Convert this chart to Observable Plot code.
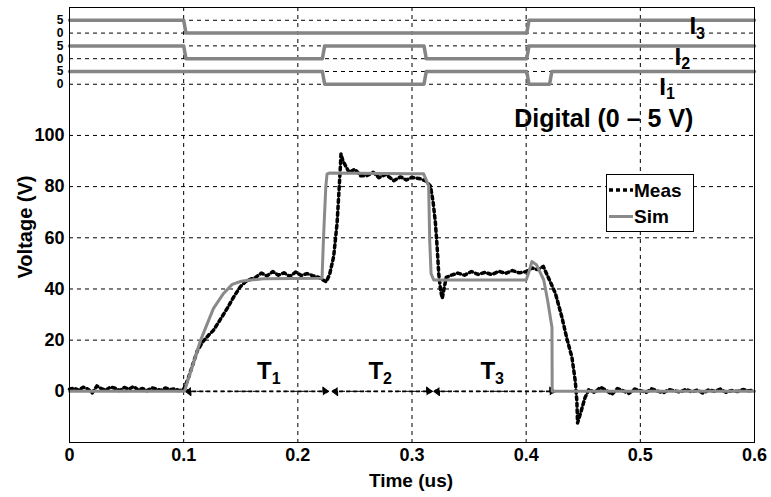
<!DOCTYPE html>
<html><head><meta charset="utf-8">
<script src="https://cdn.jsdelivr.net/npm/d3@7"></script>
<script src="https://cdn.jsdelivr.net/npm/@observablehq/plot@0.6"></script>
<style>
body{margin:0;background:#fff;}
#chart{position:relative;width:771px;height:497px;}
</style></head><body><div id="chart"></div>
<script>
// ---- Data ----
// Measured voltage (V) vs time (us)
const measT = [
  0,.004,.008,.012,.016,.02,.024,.028,.032,.036,.04,.044,.048,.052,.056,.06,.064,.068,.072,.076,.08,.084,.088,.092,.096,.1,
  .104,.108,.112,.117,.122,.126,.132,.138,.144,.1497,.154,.1585,
  .163,.168,.173,.178,.183,.188,.193,.198,.203,.208,.213,.218,.222,.225,
  .228,.2314,.2344,.2358,.2373,.2378,.2395,.2417,.245,.25,.255,.2606,.266,.271,.277,.284,.29,.295,.3,.3077,.312,.3161,
  .3185,.3205,.322,.3234,.325,.3265,.328,.33,.334,.34,.346,.352,.358,.364,.37,.376,.382,.388,.394,.4,.405,
  .41,.415,.4197,.4256,.4313,.4357,.4401,.443,.4444,.445,.448,.4515,.455,.46,
  .465,.47,.475,.48,.485,.49,.495,.5,.505,.51,.515,.52,.525,.53,.535,.54,.545,.55,.555,.56,.565,.57,.575,.58,.585,.59,.595,.6
];
const measV = [
  0.8,1.3,0.4,1.6,0.9,-0.6,2.1,1.0,0.5,1.7,1.2,0.3,1.5,0.8,1.9,0.6,1.1,0.2,1.4,0.9,0.4,1.3,0.7,1.0,0.3,0.8,
  5,10.5,15.9,19.5,22,23.8,28,32.3,37,40.9,42.8,43.8,
  44.5,46.2,45.1,46.8,45.4,46.3,44.9,46.6,45.3,46.0,45.2,44.6,43.5,42.8,
  46,52.7,65.9,76.4,88.2,92.8,90,88.2,85.5,86.8,84.2,84.3,85.6,83.5,84.8,82.3,83.8,82.6,83.6,83,82.2,80.3,
  74,65.9,56.6,46,39.6,36.3,40,44.5,45.3,46.2,45.4,46.8,45.7,46.5,45.6,46.9,46.1,47.2,46.3,46.8,48.2,
  47.6,48.8,44.2,38.3,29,20.5,13.3,4,-3.8,-12.4,-8,-2.5,0.8,-0.5,
  1.6,0.4,-1.2,1.1,0.2,-0.8,0.9,0.3,-0.4,1.0,0.1,-0.6,0.7,0.2,-0.3,0.8,-0.2,0.5,-0.7,0.6,0.0,0.9,-0.4,0.3,-0.1,0.7,0.2,0.4
];
// Simulated voltage
const simT = [0,.1,.101,.1147,.126,.1345,.1425,.1505,.1585,.17,.2212,.2225,.2245,.2256,.228,.30,.3102,.3146,.3155,.3167,.319,.322,.40,.402,.405,.409,.4154,.419,.4215,.4226,.4228,.6];
const simV = [0,0,0.4,19.8,32.3,38,41.8,43,43.5,44,44.2,60,80,85,85.3,85,85,80.3,59,46,43.5,43.5,43.5,46,50.7,49.5,43.5,35,28,25,0,0];
// Digital gate signals (0 / 5 V)
const i1T = [0,.2215,.2235,.3105,.3125,.4005,.4025,.4205,.4225,.6];
const i1S = [5,5,0,0,5,5,0,0,5,5];
const i2T = [0,.1,.102,.2215,.2235,.3105,.3125,.4005,.4025,.6];
const i2S = [5,5,0,0,5,5,0,0,5,5];
const i3T = [0,.1,.102,.4005,.4025,.6];
const i3S = [5,5,0,0,5,5];
const digitalNames = ["I1","I2","I3"];
const digitalBase = [120,130,140];   // vertical offset of each digital trace
// Interval annotations
const spanNames = ["T1","T2","T3"];
const spanStart = [.1015,.23,.3192];
const spanEnd   = [.2268,.3176,.4255];
// Ticks
const xTicks = [0,.1,.2,.3,.4,.5,.6];
const voltTicks = [0,20,40,60,80,100];
const digitalTicks = [120,125,130,135,140,145];
const digitalTickLabels = ["0","5","0","5","0","5"];

// ---- Tables ----
const meas = measT.map((t,i)=>({t, v: measV[i]}));
const sim = simT.map((t,i)=>({t, v: simV[i]}));
const digital = [
  ...i1T.map((t,i)=>({t, v: digitalBase[0]+i1S[i], s: digitalNames[0]})),
  ...i2T.map((t,i)=>({t, v: digitalBase[1]+i2S[i], s: digitalNames[1]})),
  ...i3T.map((t,i)=>({t, v: digitalBase[2]+i3S[i], s: digitalNames[2]}))
];
const spans = spanNames.map((n,i)=>({n, a: spanStart[i], b: spanEnd[i], y: 0}));
const spanLabels = [
  {t:.1643, v:4.9, label:"T1"},
  {t:.2618, v:4.9, label:"T2"},
  {t:.3599, v:4.9, label:"T3"}
];
const iLabels = [
  {t:.5166, v:116, label:"I1"},
  {t:.530, v:127.7, label:"I2"},
  {t:.543, v:139.5, label:"I3"}
];
const FONT = '"Liberation Sans", Arial, sans-serif';
const gridStyle = {stroke:"#000", strokeOpacity:1, strokeWidth:1, strokeDasharray:"4,4"};

const chart = Plot.plot({
  width: 771, height: 497,
  marginLeft: 69, marginRight: 17, marginTop: 7, marginBottom: 55,
  style: {fontFamily: FONT, fontWeight: "bold", fontSize: "18px", background: "#fff", color: "#000"},
  x: {domain: [0, .6]},
  y: {domain: [-20, 150]},
  marks: [
    Plot.gridX(xTicks.slice(1, -1), gridStyle),
    Plot.gridY([...voltTicks, ...digitalTicks], gridStyle),
    Plot.axisX(xTicks, {anchor:"bottom", tickSize:0, tickPadding:6, fontSize:18, fontWeight:"bold", label:null,
      tickFormat: d => d === 0 ? "0" : d.toFixed(1)}),
    Plot.axisY(voltTicks, {anchor:"left", tickSize:0, tickPadding:5, fontSize:18, fontWeight:"bold", label:null}),
    Plot.axisY(digitalTicks, {anchor:"left", tickSize:0, tickPadding:6, fontSize:12, fontWeight:"bold", label:null,
      tickFormat: d => digitalTickLabels[digitalTicks.indexOf(d)]}),
    Plot.line(digital, {x:"t", y:"v", z:"s", stroke:"#858585", strokeWidth:3.5}),
    Plot.link(spans, {x1:"a", x2:"b", y1:"y", y2:"y", stroke:"#000", strokeWidth:1.8, strokeDasharray:"4,3",
      markerStart:"arrow-reverse", markerEnd:"arrow"}),
    Plot.line(meas, {x:"t", y:"v", stroke:"#000", strokeWidth:3.5, strokeDasharray:"3,3.5"}),
    Plot.line(sim, {x:"t", y:"v", stroke:"#8a8a8a", strokeWidth:3}),
    Plot.text(spanLabels, {x:"t", y:"v", text:"label", textAnchor:"start", lineAnchor:"bottom", fontSize:24, fontWeight:"bold", fill:"#000"}),
    Plot.text(iLabels, {x:"t", y:"v", text:"label", textAnchor:"start", lineAnchor:"bottom", fontSize:24, fontWeight:"bold", fill:"#000"}),
    Plot.text(["Digital (0 \u2013 5 V)"], {x: () => .468, y: () => 106.3, text: d => d, textAnchor:"middle", lineAnchor:"middle", fontSize:25, fontWeight:"bold", fill:"#000"}),
    Plot.frame({stroke:"#000", strokeWidth:1})
  ]
});
document.getElementById("chart").appendChild(chart);

const svg = d3.select(chart.tagName.toLowerCase() === "svg" ? chart : chart.querySelector("svg"));
// Filled arrowheads for the interval arrows
svg.selectAll("marker").attr("markerWidth", 14).attr("markerHeight", 14)
  .attr("fill", "#000").attr("stroke-width", 0.4)
  .selectAll("path").attr("d", "M-2.2,-1.7L0,0L-2.2,1.7Z");
// Subscripts for T1..T3 and I1..I3
svg.selectAll("text").each(function(){
  const s = this.textContent;
  if (/^[TI][123]$/.test(s)) {
    const sel = d3.select(this);
    sel.text(null);
    sel.append("tspan").text(s[0]);
    sel.append("tspan").attr("dy", "0.3em").attr("font-size", "16px").text(s[1]);
  }
});
// Axis titles
svg.append("text").attr("transform", "translate(25,227) rotate(-90)")
  .attr("text-anchor", "middle").attr("dy", "0.35em")
  .attr("font-size", 20).attr("font-weight", "bold").attr("fill", "#000").text("Voltage (V)");
svg.append("text").attr("x", 411).attr("y", 480)
  .attr("text-anchor", "middle").attr("dy", "0.35em")
  .attr("font-size", 19).attr("font-weight", "bold").attr("fill", "#000").text("Time (us)");
// Legend
const lg = svg.append("g").attr("text-anchor", "start");
lg.append("rect").attr("x", 606.5).attr("y", 174.5).attr("width", 87).attr("height", 57)
  .attr("fill", "#fff").attr("stroke", "#000");
lg.append("line").attr("x1", 609).attr("x2", 633).attr("y1", 190).attr("y2", 190)
  .attr("stroke", "#000").attr("stroke-width", 3.5).attr("stroke-dasharray", "4,3");
lg.append("text").attr("x", 634).attr("y", 190).attr("dy", "0.35em").attr("text-anchor", "start")
  .attr("font-size", 19).attr("font-weight", "bold").attr("fill", "#000").text("Meas");
lg.append("line").attr("x1", 609).attr("x2", 633).attr("y1", 216.5).attr("y2", 216.5)
  .attr("stroke", "#8a8a8a").attr("stroke-width", 3);
lg.append("text").attr("x", 634).attr("y", 216.5).attr("dy", "0.35em").attr("text-anchor", "start")
  .attr("font-size", 19).attr("font-weight", "bold").attr("fill", "#000").text("Sim");
</script></body></html>
